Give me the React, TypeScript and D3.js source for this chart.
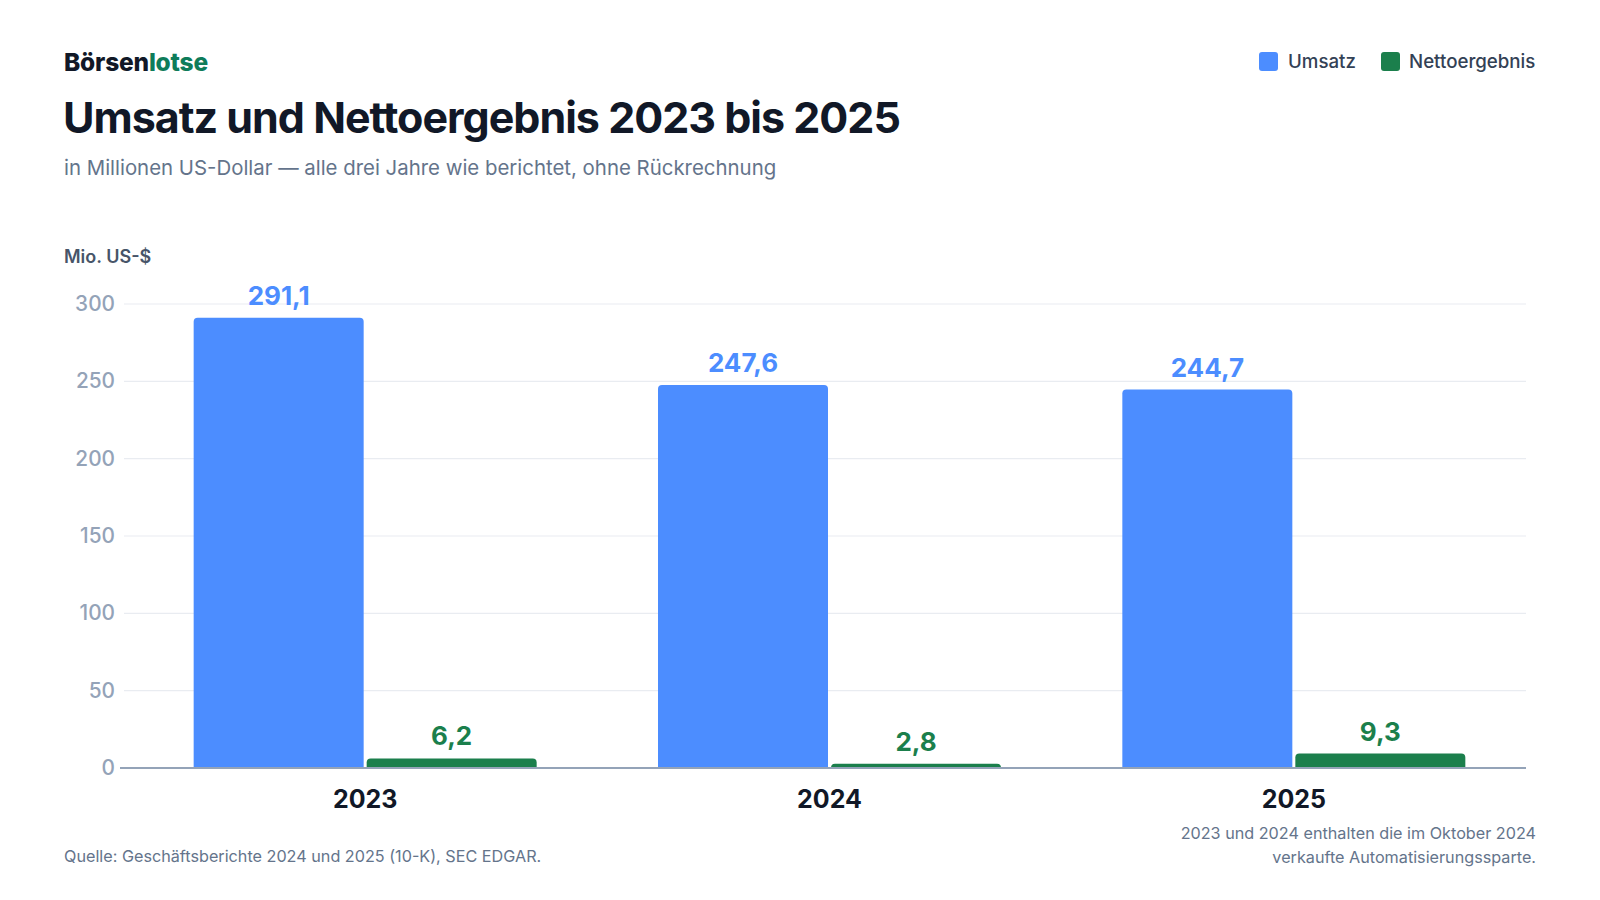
import React from 'react';
import * as d3 from 'd3';

const years = ['2023', '2024', '2025'];
const umsatz = [291.1, 247.6, 244.7];
const netto = [6.2, 2.8, 9.3];
const yTicks = [0, 50, 100, 150, 200, 250, 300];
const seriesNames = ['Umsatz', 'Nettoergebnis'];

const BLUE = '#4c8dff';
const GREEN = '#1b7f4c';
const FONT = 'Inter, "Noto Sans", sans-serif';

const WIDTH = 1600;
const HEIGHT = 900;
const margin = { left: 124, right: 74, top: 304, bottom: 132 };

// rect with only the top corners rounded
const topRounded = (x: number, y: number, w: number, h: number, r: number) => {
  const rr = Math.min(r, h, w / 2);
  return `M${x},${y + h}V${y + rr}Q${x},${y} ${x + rr},${y}H${x + w - rr}Q${x + w},${y} ${x + w},${y + rr}V${y + h}Z`;
};

const fmt = (v: number) => v.toFixed(1).replace('.', ',');

const App: React.FC = () => {
  const plotRight = WIDTH - margin.right;
  const plotBottom = HEIGHT - margin.bottom;

  const yScale = d3.scaleLinear().domain([0, 300]).range([plotBottom, margin.top]);

  const xScale = d3.scaleBand<string>()
    .domain(years)
    .range([133, plotRight])
    .paddingInner(0)
    .paddingOuter(0);

  const barW = 170;
  const gap = 3;

  const series = [
    { name: seriesNames[0], values: umsatz, color: BLUE, offset: -gap / 2 - barW },
    { name: seriesNames[1], values: netto, color: GREEN, offset: gap / 2 },
  ];

  return (
    <svg
      width={WIDTH}
      height={HEIGHT}
      style={{ position: 'absolute', left: 0, top: 0, background: '#fff' }}
      fontFamily={FONT}
    >
      <rect width={WIDTH} height={HEIGHT} fill="#fff" />

      {/* header */}
      <text x={64} y={71} fontSize={24.5} fontWeight={800} letterSpacing={-0.2} fill="#111827">
        Börsen<tspan fill="#0e7c5a">lotse</tspan>
      </text>
      <text x={63} y={133} fontSize={43} fontWeight={700} letterSpacing={-1} fill="#111827">
        Umsatz und Nettoergebnis 2023 bis 2025
      </text>
      <text x={64} y={175} fontSize={20.4} fill="#64748b">
        in Millionen US-Dollar — alle drei Jahre wie berichtet, ohne Rückrechnung
      </text>

      {/* legend */}
      <g fontSize={18.7} fontWeight={500} fill="#334155">
        <rect x={1259} y={52} width={19} height={19} rx={3} fill={BLUE} />
        <text x={1288} y={68}>{seriesNames[0]}</text>
        <rect x={1381} y={52} width={19} height={19} rx={3} fill={GREEN} />
        <text x={1409} y={68}>{seriesNames[1]}</text>
      </g>

      <text x={64} y={263} fontSize={18} fontWeight={600} fill="#475569">Mio. US-$</text>

      {/* grid + y ticks */}
      {yTicks.map(t => (
        <g key={t}>
          {t > 0 && (
            <line x1={margin.left} x2={plotRight} y1={yScale(t)} y2={yScale(t)} stroke="#e9ecf1" strokeWidth={1.2} />
          )}
          <text x={115} y={yScale(t) + 7} textAnchor="end" fontSize={20.8} fontWeight={500} fill="#94a3b8">
            {t}
          </text>
        </g>
      ))}

      {/* bars */}
      {series.map(s => (
        <g key={s.name} fill={s.color}>
          {years.map((yr, i) => {
            const cx = xScale(yr)! + xScale.bandwidth() / 2;
            const x = cx + s.offset;
            const y = yScale(s.values[i]);
            return (
              <g key={yr}>
                <path d={topRounded(x, y, barW, plotBottom - y, 4)} />
                <text x={x + barW / 2} y={y - 13} textAnchor="middle" fontSize={26} fontWeight={700}>
                  {fmt(s.values[i])}
                </text>
              </g>
            );
          })}
        </g>
      ))}

      {/* baseline */}
      <line x1={margin.left - 4} x2={plotRight} y1={plotBottom} y2={plotBottom} stroke="#94a3b8" strokeWidth={2} />

      {/* x labels */}
      {years.map(yr => (
        <text
          key={yr}
          x={xScale(yr)! + xScale.bandwidth() / 2}
          y={808}
          textAnchor="middle"
          fontSize={25}
          fontWeight={700}
          fill="#111827"
        >
          {yr}
        </text>
      ))}

      {/* footer */}
      <text x={64} y={862} fontSize={16.2} fill="#64748b">
        Quelle: Geschäftsberichte 2024 und 2025 (10-K), SEC EDGAR.
      </text>
      <g fontSize={16.2} fill="#64748b" textAnchor="end">
        <text x={1536} y={839}>2023 und 2024 enthalten die im Oktober 2024</text>
        <text x={1536} y={863}>verkaufte Automatisierungssparte.</text>
      </g>
    </svg>
  );
};

export default App;
